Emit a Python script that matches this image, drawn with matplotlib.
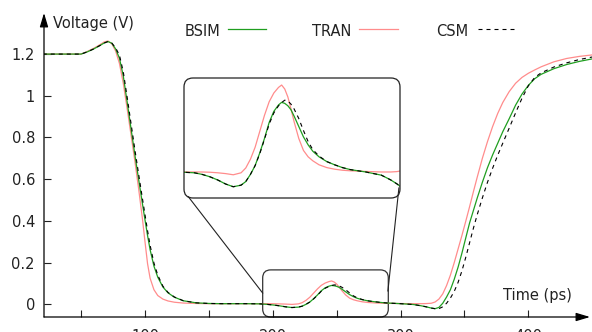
import matplotlib
matplotlib.use("Agg")
import matplotlib.pyplot as plt
from matplotlib.patches import FancyBboxPatch
from matplotlib.lines import Line2D

plt.rcParams['font.family'] = ['DejaVu Sans']

# ---------------- data ----------------
time_ps = [20, 30, 40, 45, 50,
           55, 60, 65, 68, 71,
           74, 77, 80, 83, 86,
           89, 92, 95, 98, 100,
           102, 104, 107, 110, 114,
           118, 123, 130, 140, 150,
           160, 170, 180, 190, 195,
           200, 205, 210, 215, 220,
           223, 226, 229, 232, 235,
           238, 241, 244, 246, 248,
           250, 252, 254, 257, 260,
           263, 266, 270, 275, 280,
           285, 290, 300, 310, 316,
           320, 324, 327, 330, 333,
           336, 339, 342, 345, 348,
           351, 354, 357, 360, 364,
           368, 372, 376, 380, 385,
           390, 395, 400, 405, 410,
           420, 430, 440, 450]

bsim = [1.2, 1.2, 1.2, 1.2, 1.2,
        1.211, 1.225, 1.242, 1.253, 1.26,
        1.252, 1.225, 1.18, 1.095, 0.972,
        0.845, 0.72, 0.6, 0.482, 0.405,
        0.33, 0.262, 0.183, 0.13, 0.083,
        0.055, 0.034, 0.017, 0.007, 0.004,
        0.003, 0.003, 0.003, 0.002, 0.0,
        -0.003, -0.007, -0.012, -0.0155, -0.0135,
        -0.009, 0.0, 0.011, 0.027, 0.045,
        0.065, 0.079, 0.087, 0.0903, 0.089,
        0.086, 0.081, 0.073, 0.06, 0.047,
        0.037, 0.029, 0.022, 0.016, 0.012,
        0.0085, 0.006, 0.003, -0.001, -0.007,
        -0.012, -0.018, -0.021, -0.015, 0.005,
        0.035, 0.07, 0.12, 0.178, 0.245,
        0.318, 0.39, 0.45, 0.51, 0.585,
        0.655, 0.716, 0.772, 0.828, 0.89,
        0.955, 1.008, 1.05, 1.082, 1.103,
        1.13, 1.15, 1.165, 1.177]

tran = [1.2, 1.2, 1.2, 1.2, 1.2,
        1.213, 1.228, 1.246, 1.258, 1.263,
        1.25, 1.215, 1.155, 1.06, 0.94,
        0.815, 0.69, 0.555, 0.41, 0.3,
        0.195, 0.125, 0.07, 0.042, 0.025,
        0.016, 0.01, 0.006, 0.004, 0.003,
        0.003, 0.003, 0.003, 0.003, 0.003,
        0.0027, 0.002, 0.001, -0.0005, 0.002,
        0.008, 0.019, 0.034, 0.054, 0.074,
        0.091, 0.102, 0.109, 0.112, 0.107,
        0.097, 0.082, 0.066, 0.045, 0.03,
        0.022, 0.017, 0.012, 0.0085, 0.0065,
        0.0052, 0.0045, 0.0037, 0.003, 0.003,
        0.0035, 0.005, 0.011, 0.025, 0.05,
        0.09, 0.14, 0.2, 0.265, 0.33,
        0.398, 0.468, 0.54, 0.61, 0.7,
        0.78, 0.852, 0.915, 0.968, 1.02,
        1.06, 1.088, 1.108, 1.124, 1.139,
        1.163, 1.179, 1.189, 1.196]

csm = [1.2, 1.2, 1.2, 1.2, 1.2,
       1.211, 1.225, 1.242, 1.253, 1.26,
       1.253, 1.23, 1.195, 1.115, 0.995,
       0.87, 0.745, 0.625, 0.507, 0.43,
       0.353, 0.283, 0.198, 0.14, 0.087,
       0.057, 0.035, 0.017, 0.007, 0.004,
       0.003, 0.003, 0.003, 0.002, 0.0,
       -0.003, -0.007, -0.012, -0.0155, -0.0135,
       -0.009, 0.0, 0.011, 0.026, 0.044,
       0.063, 0.077, 0.086, 0.09, 0.093,
       0.092, 0.088, 0.082, 0.07, 0.055,
       0.041, 0.031, 0.023, 0.016, 0.012,
       0.0085, 0.006, 0.003, -0.001, -0.007,
       -0.012, -0.018, -0.021, -0.021, -0.012,
       0.005, 0.03, 0.062, 0.105, 0.16,
       0.225, 0.295, 0.365, 0.43, 0.51,
       0.585, 0.652, 0.715, 0.773, 0.845,
       0.918, 0.988, 1.048, 1.088, 1.11,
       1.138, 1.158, 1.174, 1.186]

series_names = ["BSIM", "TRAN", "CSM"]
x_ticks = [50, 100, 150, 200, 250, 300, 350, 400]
x_tick_labels = ["", "100", "", "200", "", "300", "", "400"]
y_ticks = [0, 0.2, 0.4, 0.6, 0.8, 1.0, 1.2]
y_tick_labels = ["0", "0.2", "0.4", "0.6", "0.8", "1", "1.2"]

# ---------------- styles ----------------
GREEN = "#1f9e1f"
PINK = "#ff8c8c"
TEXT = "#222222"
W, H = 592, 332

def fx(px):
    return px / W

def fy(py):
    return 1 - py / H

fig = plt.figure(figsize=(W / 100, H / 100), dpi=100)
ax = fig.add_axes([fx(44), fy(317), (592 - 44) / W, (317 - 13) / H])
ax.set_xlim(20.97, 449.8)
ax.set_ylim(-0.0609, 1.397)
for s in ax.spines.values():
    s.set_visible(False)
ax.patch.set_visible(False)

styles = {
    "TRAN": dict(color=PINK, lw=0.9),
    "BSIM": dict(color=GREEN, lw=0.9),
    "CSM": dict(color="black", lw=0.8, dashes=(3.6, 3.6)),
}

ax.plot(time_ps, tran, **styles["TRAN"])
ax.plot(time_ps, bsim, **styles["BSIM"])
ax.plot(time_ps, csm, **styles["CSM"])

ax.set_xticks(x_ticks)
ax.set_xticklabels(x_tick_labels)
ax.set_yticks(y_ticks)
ax.set_yticklabels(y_tick_labels)
ax.tick_params(direction="in", length=5, width=0.8, color=TEXT,
               labelsize=10.5, labelcolor=TEXT)
ax.tick_params(axis="y", pad=6.5)
ax.tick_params(axis="x", pad=8.5)

arrow = dict(arrowstyle="-|>,head_length=0.6,head_width=0.18", color="black",
             lw=0.9, shrinkA=0, shrinkB=0, mutation_scale=14)
ax.annotate("", xy=((590 - 44) / 548, 0), xytext=(0, 0), xycoords="axes fraction",
            textcoords="axes fraction", arrowprops=arrow, annotation_clip=False)
ax.annotate("", xy=(0, 1), xytext=(0, 0), xycoords="axes fraction",
            textcoords="axes fraction", arrowprops=arrow, annotation_clip=False)

fig.text(fx(53), fy(28.3), "Voltage (V)", fontsize=10.5, color=TEXT, va="baseline")
fig.text(fx(503), fy(300), "Time (ps)", fontsize=10.5, color=TEXT, va="baseline")

# legend (manual, gnuplot style)
leg = [("BSIM", 185, 228, 266), ("TRAN", 312, 359, 398), ("CSM", 436, 478, 518)]
for name, tx, l0, l1 in leg:
    fig.text(fx(tx), fy(35.5), name, fontsize=10.5, color=TEXT, va="baseline")
    fig.add_artist(Line2D([fx(l0), fx(l1)], [fy(29), fy(29)], transform=fig.transFigure,
                          **styles[name]))

# small zoom box in main axes (rounded)
px_per_ps = 1.278
px_per_v = 208.5
small = FancyBboxPatch((192.1, -0.061), 98.3, 0.226,
                       boxstyle="round,pad=0,rounding_size=6.3",
                       mutation_aspect=px_per_ps / px_per_v,
                       transform=ax.transData, fill=False, ec="#333333", lw=0.9,
                       clip_on=False)
ax.add_patch(small)

# connector lines
ax.plot([133.9, 192.1], [0.516, 0.054], color=TEXT, lw=0.8)
ax.plot([298.7, 290.1], [0.558, 0.064], color=TEXT, lw=0.8)

# inset
ax_in = fig.add_axes([fx(184), fy(198), 216 / W, 120 / H])
ax_in.set_xlim(183.4, 321.9)
ax_in.set_ylim(-0.0296, 0.1208)
ax_in.axis("off")
ax_in.plot(time_ps, tran, **styles["TRAN"])
ax_in.plot(time_ps, bsim, **styles["BSIM"])
ax_in.plot(time_ps, csm, **styles["CSM"])

box = FancyBboxPatch((1.84, (H - 198) / 100), 2.16, 1.20,
                     boxstyle="round,pad=0,rounding_size=0.09",
                     transform=fig.dpi_scale_trans, fill=False, ec=TEXT, lw=0.9)
fig.add_artist(box)

fig.savefig("out.png", dpi=100)
